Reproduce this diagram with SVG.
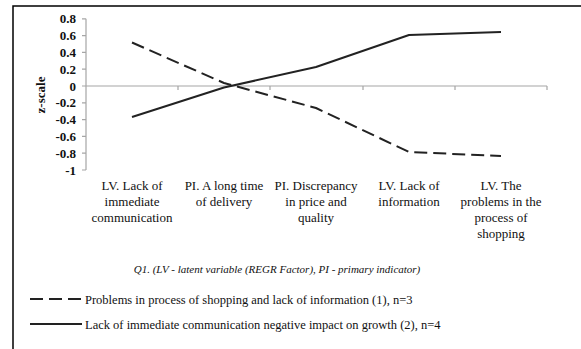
<svg xmlns="http://www.w3.org/2000/svg" width="581" height="349" viewBox="0 0 581 349">
  <style>
    text { font-family: "Liberation Serif", "Times New Roman", serif; fill: #111; }
    .tick { font-size: 13px; font-weight: bold; text-anchor: end; }
    .cat { font-size: 13px; text-anchor: middle; }
    .axis { stroke: #a6a6a6; stroke-width: 1.2; fill: none; }
    .series { fill: none; stroke: #222; stroke-width: 2; stroke-linejoin: round; }
    .dash { stroke-dasharray: 13 6; }
    .legend { font-size: 12.5px; }
  </style>
  <rect width="581" height="349" fill="#fff"/>
  <!-- frame: top and left edges -->
  <path d="M13,349 V6 H581" fill="none" stroke="#000" stroke-width="1.5"/>

  <!-- value axis -->
  <g id="y-axis">
    <path class="axis" d="M86,18.8 V170 M82,18.8 H86 M82,35.6 H86 M82,52.4 H86 M82,69.2 H86 M82,86 H86 M82,102.8 H86 M82,119.6 H86 M82,136.4 H86 M82,153.2 H86 M82,170 H86"/>
    <text class="tick" x="76" y="23.3">0.8</text>
    <text class="tick" x="76" y="40.1">0.6</text>
    <text class="tick" x="76" y="56.9">0.4</text>
    <text class="tick" x="76" y="73.7">0.2</text>
    <text class="tick" x="76" y="90.5">0</text>
    <text class="tick" x="76" y="107.3">-0.2</text>
    <text class="tick" x="76" y="124.1">-0.4</text>
    <text class="tick" x="76" y="140.9">-0.6</text>
    <text class="tick" x="76" y="157.7">-0.8</text>
    <text class="tick" x="76" y="174.5">-1</text>
    <text x="40" y="95" transform="rotate(-90 40 95)" text-anchor="middle" dy="4.5" font-size="13" font-weight="bold">z-scale</text>
  </g>

  <!-- category axis -->
  <g id="x-axis">
    <path class="axis" d="M86,86 H547 M178,86 V90 M270,86 V90 M363,86 V90 M455,86 V90 M547,86 V90"/>
  </g>

  <g id="cat-1">
    <text class="cat" x="132" y="190"><tspan x="132">LV. Lack of</tspan><tspan x="132" dy="16">immediate</tspan><tspan x="132" dy="16">communication</tspan></text>
  </g>
  <g id="cat-2">
    <text class="cat" x="224" y="190"><tspan x="224">PI. A long time</tspan><tspan x="224" dy="16">of delivery</tspan></text>
  </g>
  <g id="cat-3">
    <text class="cat" x="316" y="190"><tspan x="316">PI. Discrepancy</tspan><tspan x="316" dy="16">in price and</tspan><tspan x="316" dy="16">quality</tspan></text>
  </g>
  <g id="cat-4">
    <text class="cat" x="409" y="190"><tspan x="409">LV. Lack of</tspan><tspan x="409" dy="16">information</tspan></text>
  </g>
  <g id="cat-5">
    <text class="cat" x="501" y="190"><tspan x="501">LV. The</tspan><tspan x="501" dy="16">problems in the</tspan><tspan x="501" dy="16">process of</tspan><tspan x="501" dy="16">shopping</tspan></text>
  </g>

  <!-- data series -->
  <g id="series">
    <polyline id="series-1" class="series dash" points="132,42.5 224,83 316,108 409,152 501,156"/>
    <polyline id="series-2" class="series" points="132,117 224,87.5 316,67 409,35 501,32"/>
  </g>

  <!-- caption -->
  <g id="caption">
    <text x="277" y="272.5" text-anchor="middle" font-size="11" font-style="italic">Q1. (LV - latent variable (REGR Factor), PI - primary indicator)</text>
  </g>

  <!-- legend -->
  <g id="legend">
    <line class="series dash" x1="30" y1="299" x2="82" y2="299" stroke-width="1.5"/>
    <text class="legend" x="85" y="303.5">Problems in process of shopping and lack of information (1), n=3</text>
    <line class="series" x1="30" y1="324" x2="82" y2="324" stroke-width="1.5"/>
    <text class="legend" x="85" y="328.5">Lack of immediate communication negative impact on growth (2), n=4</text>
  </g>
</svg>
